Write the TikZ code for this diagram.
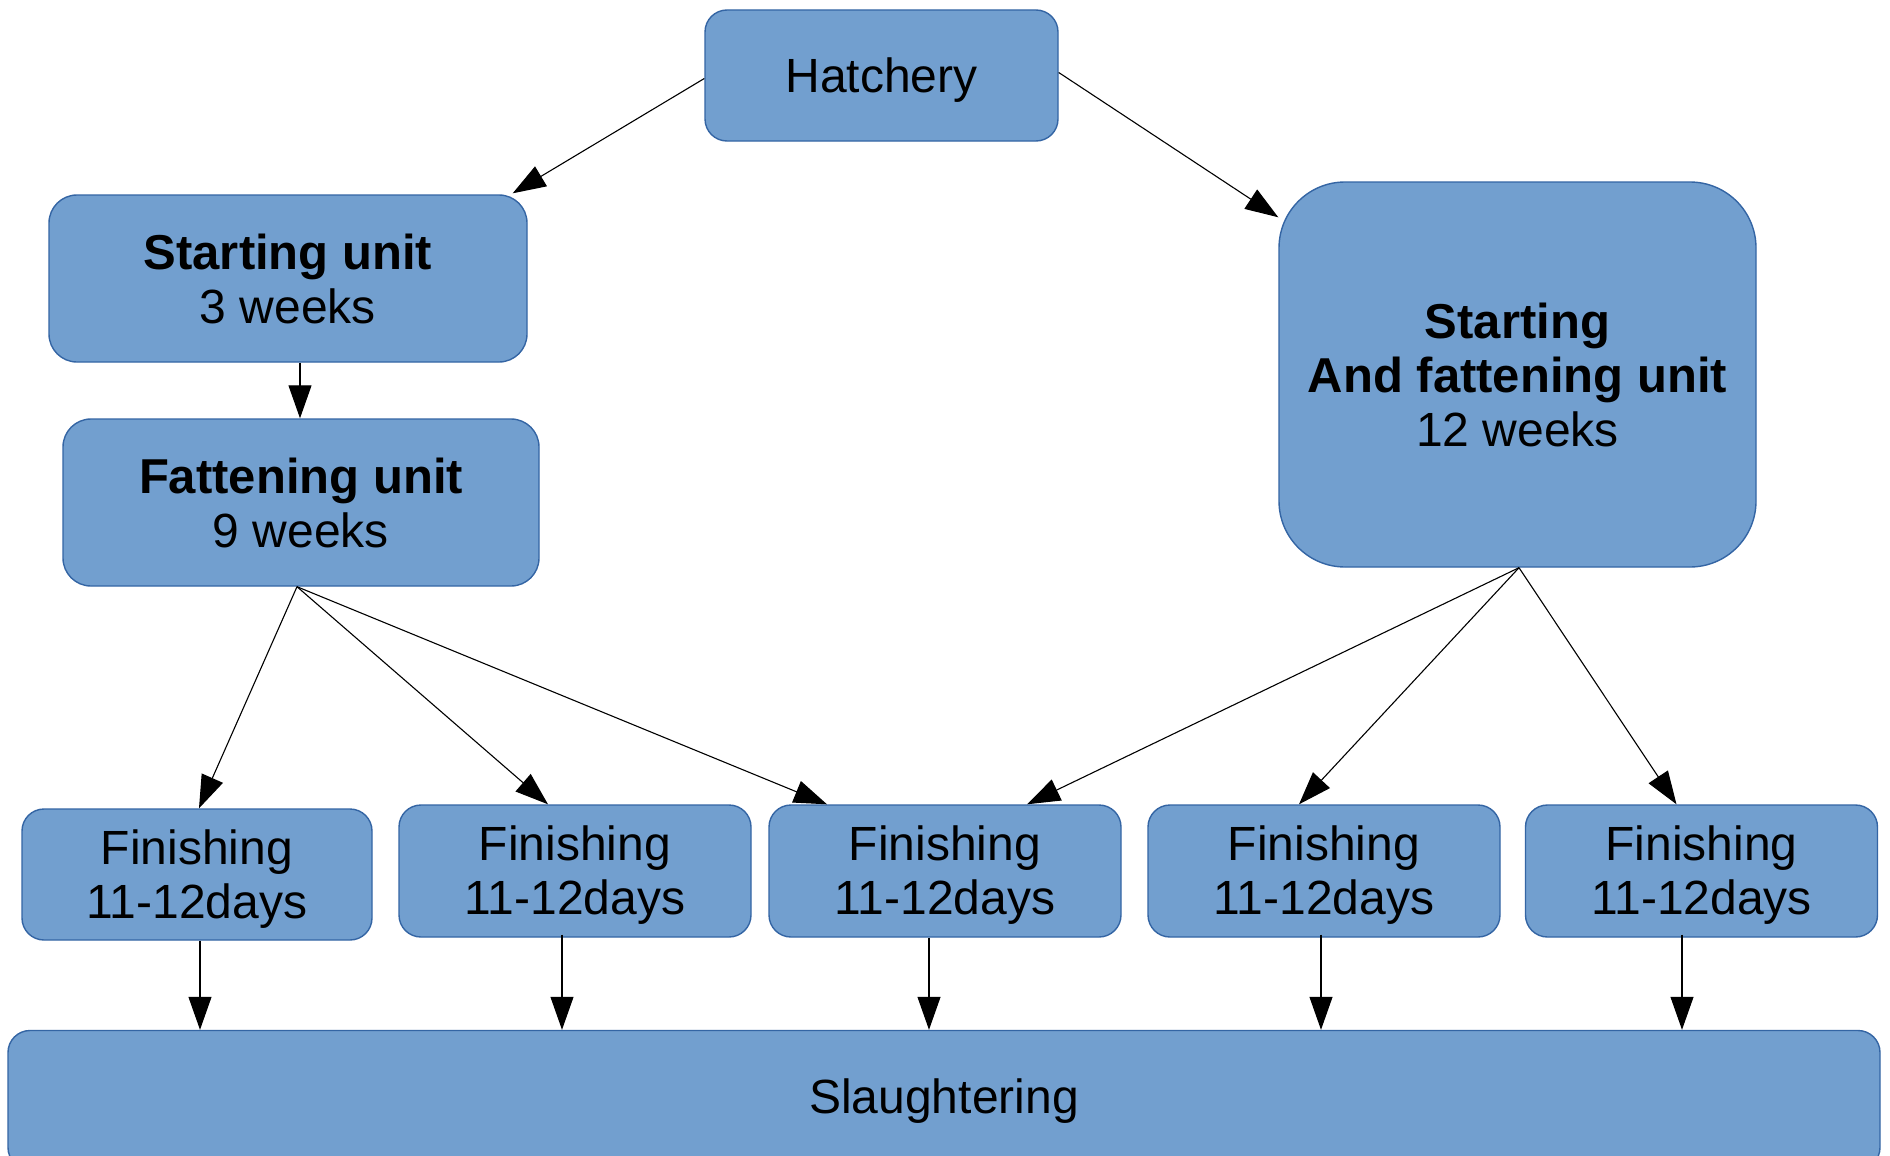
\documentclass[tikz,border=0pt]{standalone}
\usepackage{fontspec}
\setmainfont{Liberation Sans}
\usetikzlibrary{arrows.meta}
\definecolor{boxfill}{HTML}{729FCF}
\definecolor{boxline}{HTML}{3465A4}
\newcommand\lowr[1]{\raisebox{-4.5pt}[\height][\depth]{#1}}
\tikzset{
  unitbox/.style={draw=boxline, fill=boxfill, line width=1.4pt, rounded corners=22pt,
    inner sep=0pt, align=center, font=\fontsize{48}{54}\selectfont, text=black},
  arr/.style={line width=1.1pt, -{Triangle[length=33pt,width=23pt]}, shorten >=0pt},
}
\begin{document}
\begin{tikzpicture}[x=1pt,y=-1pt]
\clip (0,0) rectangle (1890,1156);
\fill[white] (0,0) rectangle (1890,1156);

\node[unitbox, minimum width=353pt, minimum height=131pt] (h) at (881.5,75.5) {\lowr{Hatchery}};
\node[unitbox, rounded corners=28pt, minimum width=478pt, minimum height=167pt] (su) at (288,278.5) {{\fontsize{49}{54}\selectfont\bfseries Starting unit}\\3 weeks};
\node[unitbox, rounded corners=28pt, minimum width=476pt, minimum height=167pt] (fu) at (301,502.5) {{\fontsize{49}{54}\selectfont\bfseries Fattening unit}\\9 weeks};
\node[unitbox, rounded corners=66pt, minimum width=477pt, minimum height=385pt] (saf) at (1517.5,374.5) {{\fontsize{49}{54}\selectfont\bfseries Starting}\\{\fontsize{49}{54}\selectfont\bfseries And fattening unit}\\12 weeks};

\node[unitbox, minimum width=350pt, minimum height=131pt] (f1) at (197,874.5) {\lowr{Finishing}\\\lowr{11-12days}};
\node[unitbox, minimum width=352pt, minimum height=132pt] (f2) at (575,871) {\lowr{Finishing}\\\lowr{11-12days}};
\node[unitbox, minimum width=352pt, minimum height=132pt] (f3) at (945,871) {\lowr{Finishing}\\\lowr{11-12days}};
\node[unitbox, minimum width=352pt, minimum height=132pt] (f4) at (1324,871) {\lowr{Finishing}\\\lowr{11-12days}};
\node[unitbox, minimum width=352pt, minimum height=132pt] (f5) at (1701.5,871) {\lowr{Finishing}\\\lowr{11-12days}};

\node[unitbox, minimum width=1872pt, minimum height=139pt] (sl) at (944,1100) {};
\node[font=\fontsize{48}{54}\selectfont, inner sep=0pt] (sltext) at (944,1101) {Slaughtering};

% top arrows
\draw[arr] ([yshift=-3pt]h.west) -- ([xshift=-15pt,yshift=1pt]su.north east);
\draw[arr] ([yshift=3pt]h.east) -- ([yshift=-36pt]saf.north west);
\draw[arr] ([xshift=12pt]su.south) -- ([xshift=-1pt]fu.south |- fu.north);

% fattening unit to finishing
\draw[arr] ([xshift=-4pt]fu.south) -- ([xshift=2pt]f1.north);
\draw[arr] ([xshift=-4pt]fu.south) -- ([xshift=-27pt]f2.north);
\draw[arr] ([xshift=-4pt]fu.south) -- ([xshift=-118pt]f3.north);

% starting and fattening unit to finishing
\draw[arr] ([xshift=1.5pt]saf.south) -- ([xshift=82pt]f3.north);
\draw[arr] ([xshift=1.5pt]saf.south) -- ([xshift=-25pt]f4.north);
\draw[arr] ([xshift=1.5pt]saf.south) -- ([xshift=-25pt]f5.north);

% finishing to slaughtering
\draw[arr] ([xshift=3pt]f1.south) -- ([xshift=3pt]f1.south |- sl.north);
\draw[arr] ([xshift=-13pt,yshift=3pt]f2.south) -- ([xshift=-13pt]f2.south |- sl.north);
\draw[arr] ([xshift=-16pt]f3.south) -- ([xshift=-16pt]f3.south |- sl.north);
\draw[arr] ([xshift=-3pt,yshift=3pt]f4.south) -- ([xshift=-3pt]f4.south |- sl.north);
\draw[arr] ([xshift=-19.5pt,yshift=3pt]f5.south) -- ([xshift=-19.5pt]f5.south |- sl.north);
\end{tikzpicture}
\end{document}
